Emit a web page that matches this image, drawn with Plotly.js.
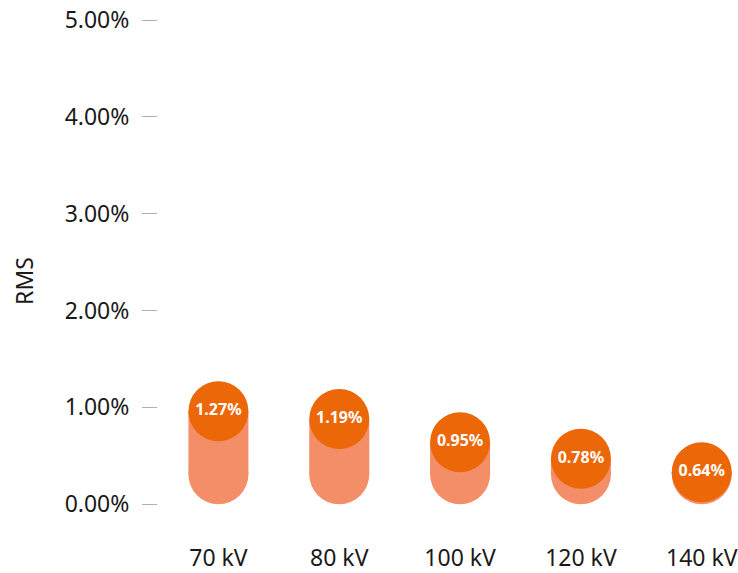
<!DOCTYPE html>
<html>
<head>
<meta charset="utf-8">
<script src="https://cdn.plot.ly/plotly-3.0.1.min.js"></script>
<style>html,body{margin:0;padding:0;background:#fff;}#chart{width:738px;height:573px;}</style>
</head>
<body>
<div id="chart"></div>
<script>
const categories = ["70 kV", "80 kV", "100 kV", "120 kV", "140 kV"];
const rmsValues = [1.27, 1.19, 0.95, 0.78, 0.64];
const valueLabels = ["1.27%", "1.19%", "0.95%", "0.78%", "0.64%"];
const yTickVals = [0, 1, 2, 3, 4, 5];
const yTickText = ["0.00%", "1.00%", "2.00%", "3.00%", "4.00%", "5.00%"];

const W = 738, H = 573;
const margin = {l: 158, r: 0, t: 20, b: 31};
const yRange = [-0.39, 5];
const xRange = [-0.5, 4.3];
const plotH = H - margin.t - margin.b;
const plotW = W - margin.l - margin.r;
const circleSize = 60;
const rData = (circleSize / 2) * (yRange[1] - yRange[0]) / plotH;
const barWidth = circleSize * (xRange[1] - xRange[0]) / plotW;

const light = "#F38E68";
const dark = "#EC6707";
const font = "Noto Sans, sans-serif";

const traces = [
  // light body of the pill (between the bottom cap centre and the top circle centre)
  {type: "bar", x: categories, y: rmsValues.map(v => Math.max(v - 2 * rData, 0)),
   base: categories.map(() => rData), width: barWidth,
   marker: {color: light, line: {width: 0}}, hoverinfo: "skip"},
  // rounded bottom cap
  {type: "scatter", mode: "markers", x: categories, y: categories.map(() => rData),
   marker: {size: circleSize, color: light, line: {width: 0}}, hoverinfo: "skip", cliponaxis: false},
  // dark circle at the top carrying the value
  {type: "scatter", mode: "markers+text", x: categories,
   y: rmsValues.map(v => v - rData),
   text: valueLabels, textposition: "middle center",
   textfont: {family: font, size: 16, color: "#ffffff", weight: "bold"},
   marker: {size: circleSize, color: dark, line: {width: 0}}, cliponaxis: false}
];

const layout = {
  width: W, height: H, margin: margin,
  paper_bgcolor: "#ffffff", plot_bgcolor: "#ffffff",
  showlegend: false, barmode: "overlay",
  font: {family: font, color: "#1a1a1a", size: 23},
  xaxis: {type: "category", range: xRange, showgrid: false, zeroline: false,
          showline: false, ticks: "", ticklabelstandoff: 0,
          tickfont: {family: font, size: 23, color: "#1a1a1a"}},
  yaxis: {range: yRange, tickvals: yTickVals, ticktext: yTickText,
          showgrid: false, zeroline: false, showline: false,
          ticks: "outside", ticklen: 15, tickwidth: 1, tickcolor: "#b0b0b0",
          ticklabelstandoff: 8,
          tickfont: {family: font, size: 23, color: "#1a1a1a"},
          title: {text: "RMS", standoff: 24, font: {family: font, size: 23, color: "#1a1a1a"}}}
};

Plotly.newPlot("chart", traces, layout, {displayModeBar: false, staticPlot: true});
</script>
</body>
</html>
